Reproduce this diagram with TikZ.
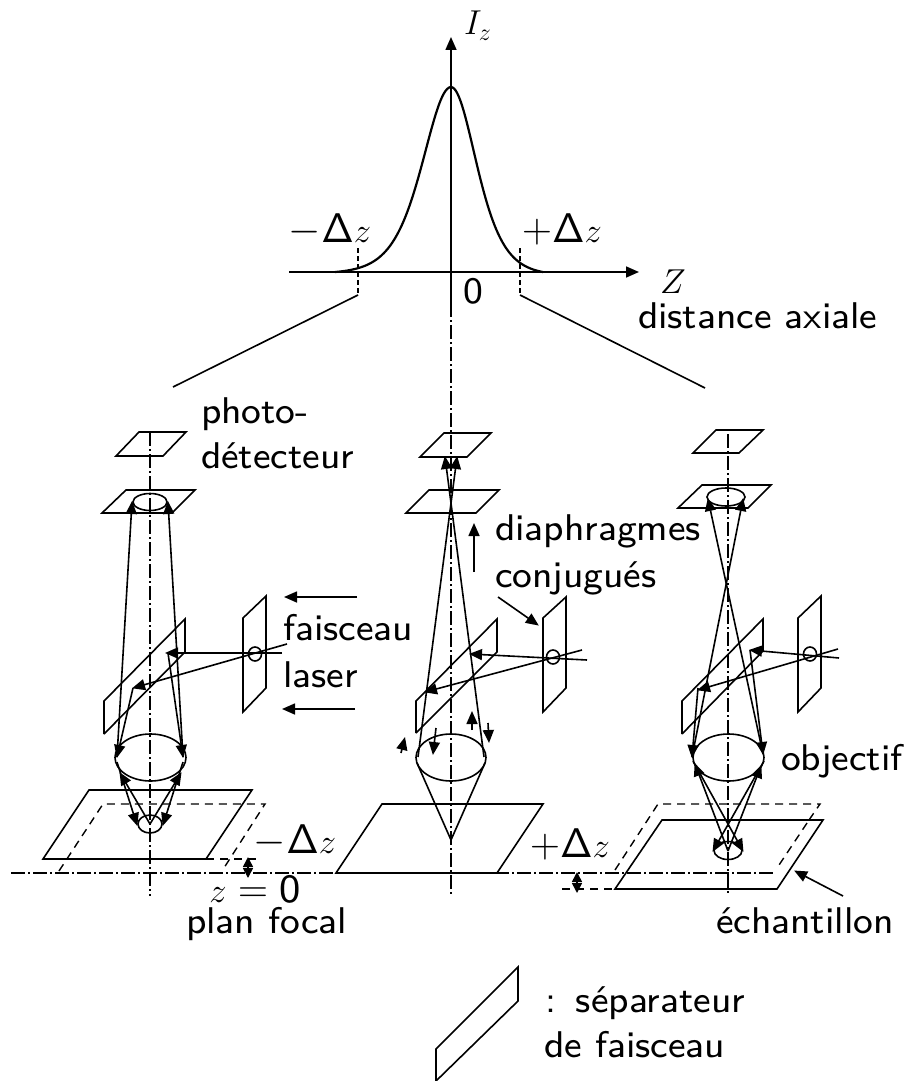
\documentclass[tikz,border=0pt]{standalone}
\usepackage{fontspec}
\setsansfont{lmsans8-regular.otf}
\usetikzlibrary{arrows.meta}
\DeclareSymbolFont{sfop}{OT1}{cmss}{m}{n}
\DeclareMathSymbol{\sfDelta}{\mathord}{sfop}{1}
\tikzset{
  ln/.style={line width=0.8pt,line join=miter},
  ray/.style={ln,-{Triangle[length=6.5pt,width=5.5pt]},shorten >=-0.5pt},
  tiny/.style={ln,-{Triangle[length=6.5pt,width=5.5pt]}},
  both/.style={ln,{Triangle[length=5pt,width=5pt]}-{Triangle[length=5pt,width=5pt]}},
  axis/.style={line width=0.7pt,dash pattern=on 7pt off 1.5pt on 1pt off 1.5pt},
  dsh/.style={line width=0.7pt,dash pattern=on 4pt off 3pt},
  lab/.style={anchor=base west,inner sep=0pt,outer sep=0pt,font=\fontsize{18.6}{22}\selectfont\sffamily},
  mlab/.style={anchor=base,inner sep=0pt,outer sep=0pt,font=\fontsize{20}{24}\selectfont},
  slab/.style={anchor=base,inner sep=0pt,outer sep=0pt,font=\fontsize{17.5}{20}\selectfont}
}
\newcommand{\smz}{\mbox{\fontsize{16.5}{18}\selectfont$z$}}
\newcommand{\dz}{\sfDelta\smz}
\begin{document}
\begin{tikzpicture}[x=0.5pt,y=-0.5pt]
\useasboundingbox (0,0) rectangle (908,1081);
% top graph
\draw[ray] (289,272) -- (638,272);
\draw[ray] (451,303) -- (451,38);
\draw[line width=1.1pt,samples=60,smooth,domain=335:451] plot (\x,{272-185*(4/(exp((\x-451)/38)+exp(-(\x-451)/38))^2-0.009)/0.991});
\draw[line width=1.1pt,samples=60,smooth,domain=451:543] plot (\x,{272-185*(4/(exp((\x-451)/34)+exp(-(\x-451)/34))^2-0.018)/0.982});
\draw[line width=0.6pt,dash pattern=on 2.5pt off 1.5pt] (358,248) -- (358,295);
\draw[line width=0.6pt,dash pattern=on 2.5pt off 1.5pt] (520,248) -- (520,295);
\draw[ln] (358,295) -- (173,387);
\draw[ln] (520,295) -- (705,388);
% axes
\draw[axis] (451,303) -- (451,895);
\draw[axis] (150,432) -- (150,896);
\draw[axis] (728,434) -- (728,896);
\draw[axis] (11,873) -- (776,873);
% left column
\draw[ln] (139,432) -- (186,432) -- (163,456) -- (116,456) -- cycle;
\draw[ln] (126,490) -- (195,490) -- (172,513) -- (102,513) -- cycle;
\draw[ln] (150,502) ellipse [x radius=17,y radius=8.5];
\draw[ln] (104,734) -- (104,701) -- (185,619) -- (185,652) -- (104,734);
\draw[ln] (243,712) -- (243,618) -- (266,596) -- (266,688) -- cycle;
\draw[ln] (255,654) ellipse [x radius=6.5,y radius=7];
\draw[ray] (117,757) -- (132,502);
\draw[ray] (183,757) -- (168,502);
\draw[ray] (287,644) -- (133,688);
\draw[ray] (282,653) -- (166,653);
\draw[ray] (133,688) -- (117,757);
\draw[ray] (168,653) -- (183,757);
\draw[ln] (150.5,757.5) ellipse [x radius=35.5,y radius=23.5];
\draw[ln] (89,790) -- (252,790) -- (206,859) -- (43,859) -- cycle;
\draw[dsh] (59,871) -- (103,804) -- (265,804) -- (222,871);
\draw[dsh] (206,859) -- (258,859);
\draw[ln] (150,824) ellipse [x radius=12,y radius=9];
\draw[ray] (117,762) -- (137,825);
\draw[ray] (183,762) -- (163,825);
\draw[ray] (150,824) -- (120,773);
\draw[ray] (150,824) -- (181,773);
\draw[both] (248,857) -- (248,878);
% middle column
\draw[ln] (444,433) -- (491,433) -- (467,457) -- (420,457) -- cycle;
\draw[ln] (429,490) -- (499,490) -- (476,513) -- (406,513) -- cycle;
\draw[ln] (416,733) -- (416,701) -- (497,619) -- (497,652) -- (416,733);
\draw[ln] (543,712) -- (543,618) -- (566,597) -- (566,688) -- cycle;
\draw[ln] (553,657) ellipse [x radius=6.5,y radius=7];
\draw[ray] (418,757) -- (457,457);
\draw[ray] (484,757) -- (445,457);
\draw[ray] (582,650) -- (425,692);
\draw[ray] (587,660) -- (470,654);
\draw[ray] (474,572) -- (474,524);
\draw[ray] (498,597) -- (538,625);
\draw[tiny] (472,730) -- (472,711);
\draw[tiny] (488,723) -- (489,743);
\draw[ray] (436,728) -- (433,754);
\draw[tiny] (401,753) -- (405,737);
\draw[ln] (451,757.5) ellipse [x radius=35,y radius=23.5];
\draw[ln] (417,763) -- (451,840) -- (485,763);
\draw[ln] (382,804) -- (543,804) -- (497,873) -- (336,873) -- cycle;
% right column
\draw[ln] (716,430) -- (763,430) -- (739,453) -- (693,453) -- cycle;
\draw[ln] (702,485) -- (771,485) -- (748,508) -- (678,508) -- cycle;
\draw[ln] (726,497) ellipse [x radius=19,y radius=9];
\draw[ln] (682,734) -- (682,701) -- (763,619) -- (763,651) -- (682,734);
\draw[ln] (798,712) -- (798,618) -- (821,596) -- (821,688) -- cycle;
\draw[ln] (810,654) ellipse [x radius=6.5,y radius=7];
\draw[ray] (763,754) -- (708,499);
\draw[ray] (692,757) -- (743,499);
\draw[ray] (838,649) -- (698,690);
\draw[ray] (839,658) -- (750,650);
\draw[ray] (698,688) -- (692,757);
\draw[ray] (750,650) -- (763,754);
\draw[ln] (728.5,757.5) ellipse [x radius=35.5,y radius=23.5];
\draw[ln] (662,820) -- (823,820) -- (777,889) -- (615,889) -- cycle;
\draw[dsh] (615,870) -- (658,804) -- (820,804) -- (809,820);
\draw[dsh] (807,823) -- (777,868);
\draw[dsh] (562,889) -- (615,889);
\draw[ln] (728,850.5) ellipse [x radius=14,y radius=9];
\draw[ray] (693,761) -- (743,851);
\draw[ray] (764,761) -- (713,851);
\draw[ray] (728,851) -- (695,764);
\draw[ray] (728,851) -- (761,766);
\draw[both] (577,872) -- (577,893);
\draw[ray] (843,896) -- (795,871);
% side arrows
\draw[ray] (357,597) -- (285,597);
\draw[ray] (355,709) -- (283,709);
% legend
\draw[ln] (436,1081) -- (436,1049) -- (518,967) -- (518,1001) -- cycle;
% labels
\node[slab] (lIz) at (478,35) {$I_z$};
\node[slab] (lZ) at (673,293) {$Z$};
\node[lab] (l0) at (463,303) {0};
\node[mlab] (lm) at (330,242) {$-\dz$};
\node[mlab] (lp) at (562,242) {$+\dz$};
\node[lab] (ldist) at (638,328) {distance axiale};
\node[lab] (lph) at (201,423) {photo-};
\node[lab] (ldet) at (201,468) {détecteur};
\node[lab] (ldia) at (495,540) {diaphragmes};
\node[lab] (lcon) at (495,587) {conjugués};
\node[lab] (lfai) at (283,640) {faisceau};
\node[lab] (llas) at (283,687) {laser};
\node[lab] (lobj) at (781,770) {objectif};
\node[mlab] (lmz) at (295,853) {$-\dz$};
\node[mlab] (lpz) at (570,857) {$+\dz$};
\node[mlab] (lz0) at (255,902) {$\smz=\mathsf{0}$};
\node[lab] (lplan) at (186,933) {plan focal};
\node[lab] (lech) at (716,933) {échantillon};
\node[lab] (lsep) at (545,1012) {:\hspace{10pt}séparateur};
\node[lab] (lde) at (544,1057) {de faisceau};
\end{tikzpicture}
\end{document}
